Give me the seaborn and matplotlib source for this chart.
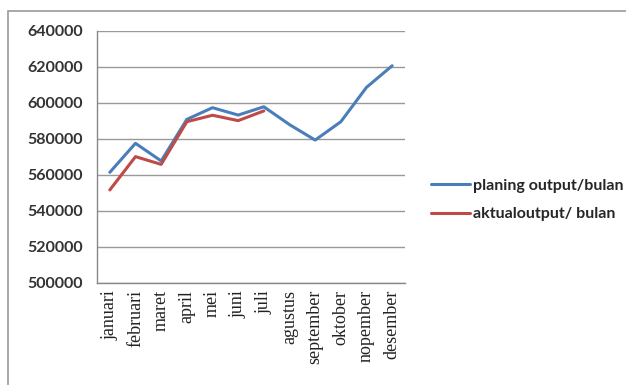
import matplotlib
matplotlib.use("Agg")
import matplotlib.pyplot as plt
import seaborn as sns
import pandas as pd
import numpy as np
from matplotlib.patches import Rectangle
from matplotlib.lines import Line2D

bulan = ["januari", "februari", "maret", "april", "mei", "juni", "juli",
         "agustus", "september", "oktober", "nopember", "desember"]
planing = [561500, 577600, 567800, 590900, 597400, 593300, 597900,
           588000, 579400, 589600, 608700, 620700]
aktual = [551700, 570200, 565900, 589600, 593200, 590200, 595600]

series_names = ["planing output/bulan", "aktualoutput/ bulan"]
colors = ["#4A7EBB", "#BE4B48"]

df = pd.concat([
    pd.DataFrame({"bulan": bulan, "pos": range(len(bulan)), "nilai": planing,
                  "seri": series_names[0]}),
    pd.DataFrame({"bulan": bulan[:len(aktual)], "pos": range(len(aktual)),
                  "nilai": aktual, "seri": series_names[1]}),
])

sns.set_theme(style="white")
fig = plt.figure(figsize=(6.26, 3.85), dpi=100)
ax = fig.add_axes([97 / 626, 1 - 283 / 385, 308 / 626, 252 / 385])

sns.lineplot(data=df, x="pos", y="nilai", hue="seri", palette=colors,
             linewidth=2.2, ax=ax, legend=False)

ax.set_ylim(500000, 640000)
ax.set_yticks(np.arange(500000, 640001, 20000))
ax.set_yticklabels([f"{v:d}" for v in range(500000, 640001, 20000)],
                   fontfamily="Lato", fontweight="bold", fontsize=11.5, color="#333333")
ax.set_xlim(-0.5, len(bulan) - 0.5)
ax.set_xticks(range(len(bulan)))
ax.set_xticklabels(bulan, rotation=90, fontfamily="Liberation Serif",
                   fontsize=13, color="#222222")
ax.set_xticks(np.arange(-0.5, len(bulan), 1), minor=True)
ax.tick_params(axis="x", which="major", length=0, pad=5)
ax.tick_params(axis="x", which="minor", length=4, color="#888888", width=1, direction="out")
ax.tick_params(axis="y", length=4, color="#888888", width=1, direction="out", pad=6)
ax.set_xlabel("")
ax.set_ylabel("")

ax.grid(axis="y", color="#999999", linewidth=1)
ax.grid(axis="x", visible=False)
for side in ["top", "right"]:
    ax.spines[side].set_visible(False)
for side in ["left", "bottom"]:
    ax.spines[side].set_color("#888888")
    ax.spines[side].set_linewidth(1)

# legend drawn to the right of the plot
handles = [Line2D([], [], color=c, linewidth=2.2) for c in colors]
fig.legend(handles, series_names, loc="center left",
           bbox_to_anchor=(417 / 626, 1 - 200 / 385), frameon=False,
           handlelength=2.4, handletextpad=0.2, labelspacing=0.9,
           prop={"family": "Lato", "weight": "bold", "size": 11.5})

# chart-area border
fig.add_artist(Rectangle((8 / 626, -0.05), 1.1, 1.05 - 11 / 385,
                         transform=fig.transFigure, fill=False,
                         edgecolor="#999999", linewidth=1.2))

fig.savefig("out.png", dpi=100)
